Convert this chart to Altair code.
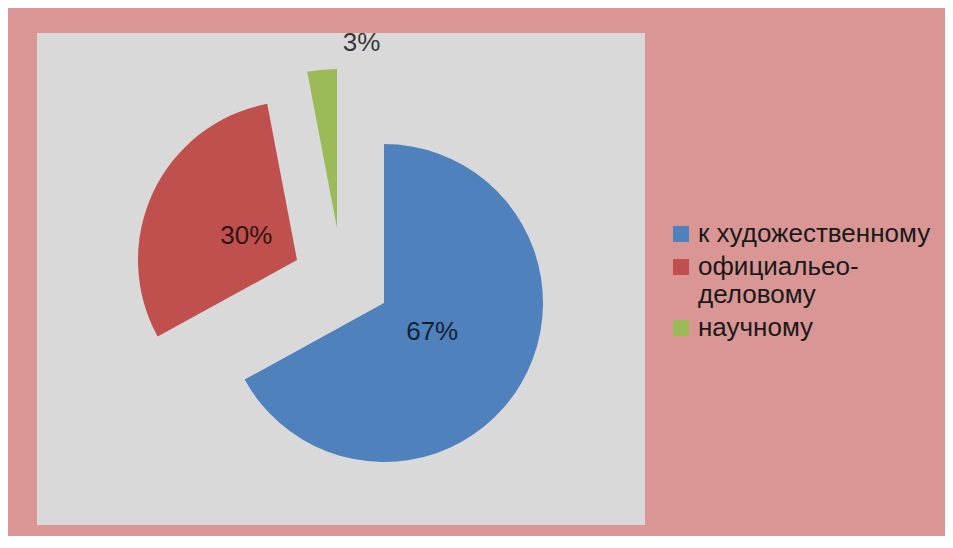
import altair as alt
import pandas as pd

# ---- data ----
categories = ["к художественному", "официальео-деловому", "научному"]
shares = [67, 30, 3]

# ---- styles ----
colors = ["#4F81BD", "#C0504D", "#9BBB59"]
explode_dx = [0, -87, -47]      # pixel offset of each exploded slice
explode_dy = [0, -43, -75]
label_r = [56, 56, 186]          # label distance from slice tip
label_dx = [0, 0, 42]
CX, CY, R = 347, 270, 159
FONT = "Liberation Sans"

df = pd.DataFrame({
    "category": categories,
    "share": shares,
    "order": list(range(len(categories))),
    "edx": explode_dx,
    "edy": explode_dy,
    "lr": label_r,
    "ldx": label_dx,
})

base = (
    alt.Chart(df)
    .transform_joinaggregate(total="sum(share)")
    .transform_window(cum="sum(share)", sort=[alt.SortField("order")], frame=[None, 0])
    .transform_calculate(
        t1="2*PI*datum.cum/datum.total",
        t0="2*PI*(datum.cum-datum.share)/datum.total",
    )
    .transform_calculate(
        mid="(datum.t0+datum.t1)/2",
        px=f"{CX}+datum.edx",
        py=f"{CY}+datum.edy",
    )
    .transform_calculate(
        lx="datum.px + datum.lr*sin(datum.mid) + datum.ldx",
        ly="datum.py - datum.lr*cos(datum.mid)",
        label="format(datum.share/datum.total, '.0%')",
    )
)

arcs = base.mark_arc(radius=R).encode(
    x=alt.X("px:Q", scale=None, axis=None),
    y=alt.Y("py:Q", scale=None, axis=None),
    theta=alt.Theta("t0:Q", scale=None, stack=False),
    theta2="t1:Q",
    color=alt.Color(
        "category:N",
        scale=alt.Scale(domain=categories, range=colors),
        sort=categories,
        legend=alt.Legend(
            title=None,
            orient="none",
            legendX=631,
            legendY=188,
            symbolType="square",
            symbolSize=256,
            symbolStrokeWidth=0,
            labelFont=FONT,
            labelFontSize=26,
            labelColor="#1a1a1a",
            labelLimit=400,
            labelOffset=4,
            rowPadding=7,
            padding=0,
            labelExpr="split(replace(datum.label, '-', '-\\n'), '\\n')",
        ),
    ),
)

labels = base.mark_text(font=FONT, fontSize=26, color="black", opacity=0.75).encode(
    x=alt.X("lx:Q", scale=None, axis=None),
    y=alt.Y("ly:Q", scale=None, axis=None),
    text="label:N",
)

chart = (
    alt.layer(arcs, labels)
    .properties(
        width=608,
        height=492,
        autosize="none",
        padding={"left": 29, "top": 25, "right": 300, "bottom": 11},
        background="#D99694",
    )
    .configure_view(fill="#D9D9D9", strokeWidth=0)
)

chart.save("out.html", embed_options={"renderer": "svg", "actions": False})
